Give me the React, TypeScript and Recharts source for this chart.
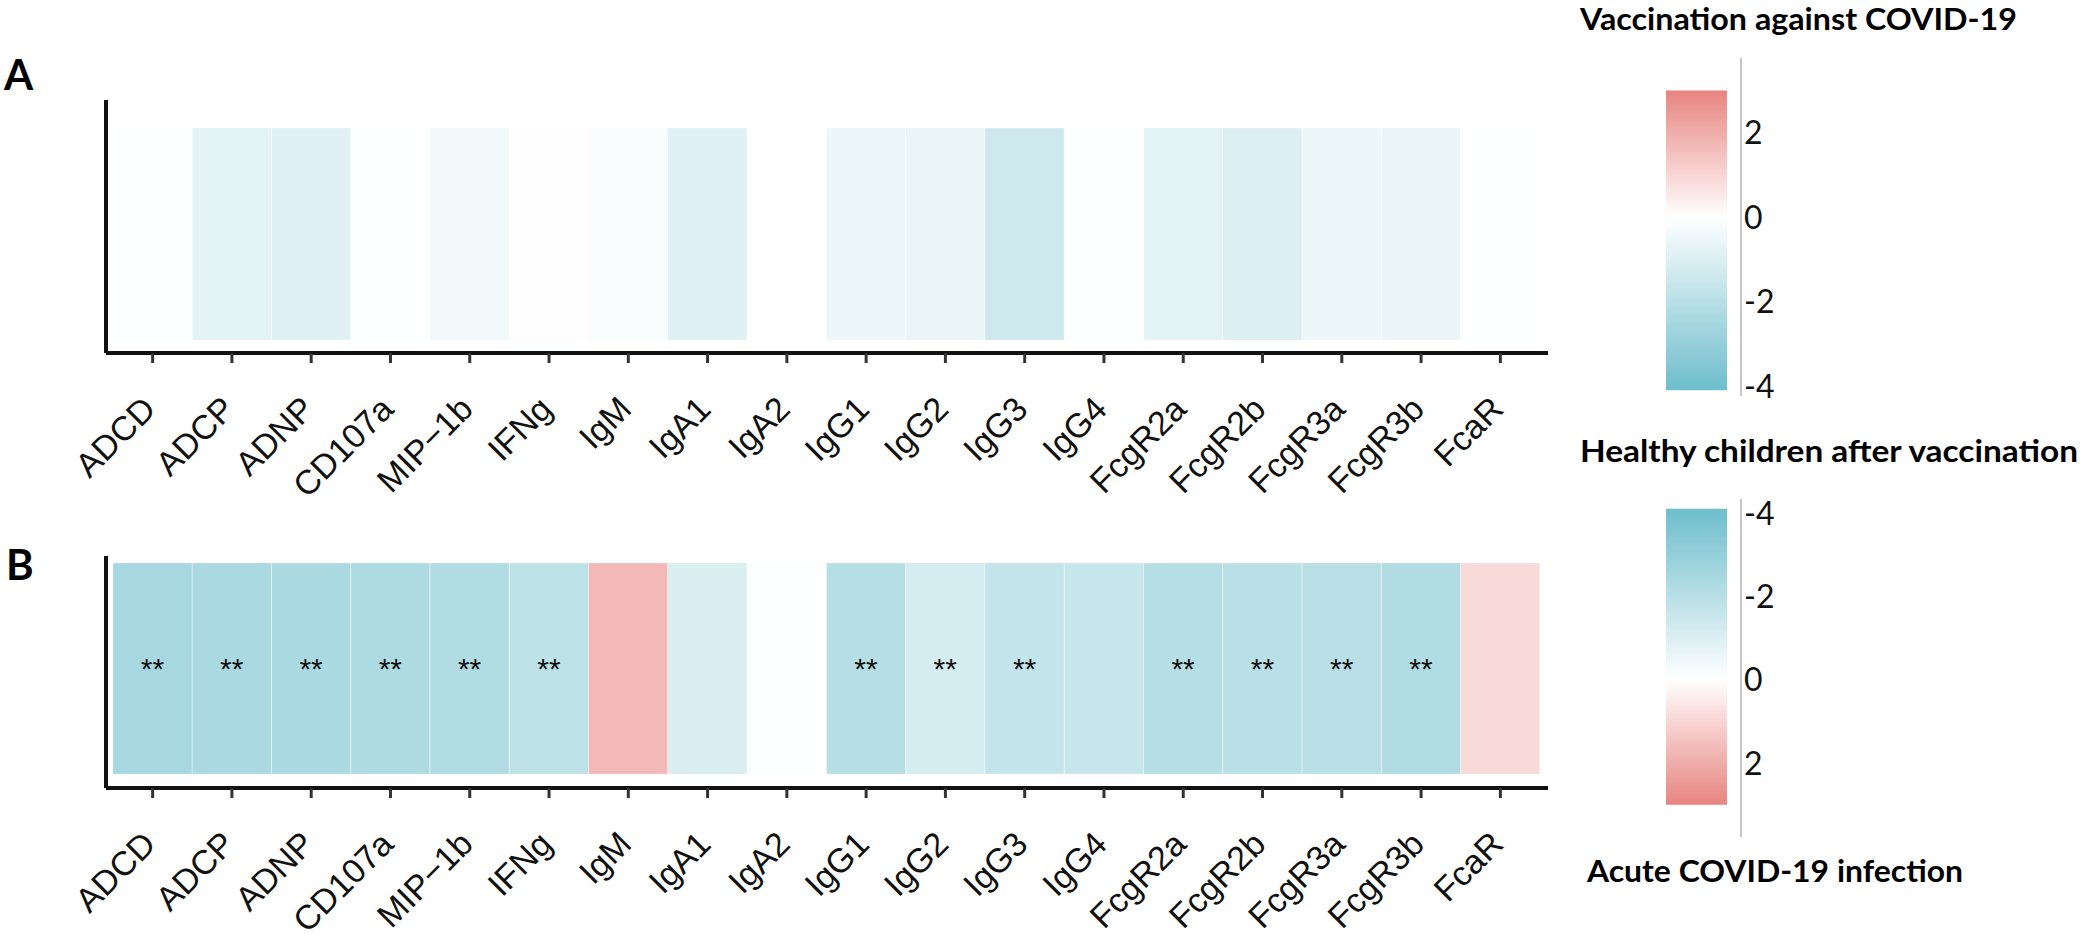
import React from 'react';
import { BarChart, Bar, XAxis, YAxis, Cell, LabelList, ReferenceLine } from 'recharts';

// ---------- data ----------
const features = [
  'ADCD', 'ADCP', 'ADNP', 'CD107a', 'MIP\u22121b', 'IFNg', 'IgM', 'IgA1', 'IgA2',
  'IgG1', 'IgG2', 'IgG3', 'IgG4', 'FcgR2a', 'FcgR2b', 'FcgR3a', 'FcgR3b', 'FcaR',
];

// Panel A: vaccination against COVID-19 (log2 fold change)
const vaccinationValues = [
  -0.05, -0.75, -0.9, -0.05, -0.4, 0.05, -0.2, -0.9, 0.0,
  -0.5, -0.6, -1.4, -0.02, -0.8, -1.0, -0.5, -0.6, -0.02,
];
const vaccinationSignif = ['', '', '', '', '', '', '', '', '', '', '', '', '', '', '', '', '', ''];

// Panel B: healthy children after vaccination vs acute COVID-19 infection
const infectionValues = [
  -2.5, -2.4, -2.35, -2.3, -2.2, -1.9, 1.7, -1.1, -0.05,
  -2.1, -1.2, -1.7, -1.6, -2.1, -1.95, -2.0, -2.2, 0.9,
];
const infectionSignif = [
  '**', '**', '**', '**', '**', '**', '', '', '',
  '**', '**', '**', '', '**', '**', '**', '**', '',
];

const colorLimits = [-4.1, 3.0];
const colorTicks = [-4, -2, 0, 2];
const colorDashTicks = [-2, 2];

// ---------- colours ----------
const LOW = [110, 190, 204];
const HIGH = [232, 132, 127];

function mix(c: number[], t: number) {
  const r = Math.round(255 + (c[0] - 255) * t);
  const g = Math.round(255 + (c[1] - 255) * t);
  const b = Math.round(255 + (c[2] - 255) * t);
  return `rgb(${r},${g},${b})`;
}
function colorFor(v: number) {
  if (v < 0) return mix(LOW, Math.min(1, v / colorLimits[0]));
  return mix(HIGH, Math.min(1, v / colorLimits[1]));
}
const lowCss = mix(LOW, 1);
const highCss = mix(HIGH, 1);

const LABEL_FONT = '"Liberation Sans", Arial, Helvetica, sans-serif';
const TITLE_FONT = 'Lato, "Open Sans", sans-serif';

// ---------- ticks ----------
const AngledTick = (props: any) => {
  const { x, y, payload } = props;
  const ax = x + 5;
  const ay = y + 46;
  return (
    <text
      x={ax}
      y={ay}
      textAnchor="end"
      transform={`rotate(-45, ${ax}, ${ay})`}
      fontSize={34}
      fontFamily={LABEL_FONT}
      fill="#111"
    >
      {payload.value}
    </text>
  );
};

const renderSig = (props: any) => {
  const { x, y, width, height, value } = props;
  if (!value) return null;
  return (
    <text
      x={x + width / 2}
      y={y + height / 2 + 11}
      textAnchor="middle"
      fontSize={30}
      fontFamily={LABEL_FONT}
      fill="#111"
    >
      {value}
    </text>
  );
};

const ScaleTick = (props: any) => {
  const { x, y, payload } = props;
  return (
    <text x={x + 1} y={y} dy="0.36em" textAnchor="start" fontSize={32} fontFamily={TITLE_FONT} fill="#111">
      {String(payload.value)}
    </text>
  );
};

const BarEdgeDashes = (props: any) => {
  const { x1, x2, y1 } = props;
  const left = x1 + 25;
  const right = x2 - 14;
  return (
    <g stroke="#ffffff" strokeOpacity={0.8} strokeWidth={2}>
      <line x1={left} x2={left + 12} y1={y1} y2={y1} />
      <line x1={right - 12} x2={right} y1={y1} y2={y1} />
    </g>
  );
};

// ---------- heatmap ----------
function Heatmap(props: {
  values: number[];
  signif: string[];
  height: number;
  marginTop: number;
  xAxisHeight: number;
  domain: [number, number];
}) {
  const { values, signif, height, marginTop, xAxisHeight, domain } = props;
  const data = features.map((f, i) => ({ feature: f, value: values[i], sig: signif[i] }));
  return (
    <BarChart
      width={1560}
      height={height}
      data={data}
      margin={{ top: marginTop, right: 12, bottom: 0, left: 104 }}
      barCategoryGap={0}
      barGap={0}
    >
      <XAxis
        dataKey="feature"
        type="category"
        interval={0}
        padding={{ left: 7, right: 8 }}
        axisLine={{ stroke: '#111', strokeWidth: 4 }}
        tickLine={{ stroke: '#333', strokeWidth: 3 }}
        tickSize={10}
        tickMargin={2}
        height={xAxisHeight}
        tick={<AngledTick />}
      />
      <YAxis
        type="number"
        domain={domain}
        allowDataOverflow
        width={2}
        tick={false}
        tickLine={false}
        axisLine={{ stroke: '#111', strokeWidth: 4 }}
      />
      <Bar dataKey={() => 1} isAnimationActive={false} stroke="#ffffff" strokeOpacity={0.25} strokeWidth={1}>
        {data.map((d, i) => (
          <Cell key={i} fill={colorFor(d.value)} />
        ))}
        <LabelList dataKey="sig" content={renderSig} />
      </Bar>
    </BarChart>
  );
}

// ---------- colour bar ----------
function ColorBar(props: { id: string; reversed: boolean; marginTop: number; domain: [number, number] }) {
  const { id, reversed, marginTop, domain } = props;
  const zeroOffset = reversed
    ? (0 - colorLimits[0]) / (colorLimits[1] - colorLimits[0])
    : (colorLimits[1] - 0) / (colorLimits[1] - colorLimits[0]);
  const topColor = reversed ? lowCss : highCss;
  const bottomColor = reversed ? highCss : lowCss;
  return (
    <BarChart
      width={260}
      height={420}
      data={[{ k: 'scale' }]}
      margin={{ top: marginTop, right: 19, bottom: 420 - marginTop - 338, left: 41 }}
      barCategoryGap={0}
    >
      <defs>
        <linearGradient id={id} x1="0" y1="0" x2="0" y2="1">
          <stop offset="0" stopColor={topColor} />
          <stop offset={zeroOffset} stopColor="#ffffff" />
          <stop offset="1" stopColor={bottomColor} />
        </linearGradient>
      </defs>
      <XAxis
        dataKey="k"
        type="category"
        orientation={reversed ? 'top' : 'bottom'}
        height={0}
        tick={false}
        tickLine={false}
        axisLine={{ stroke: '#b3b3b3', strokeWidth: 1.5 }}
        padding={{ left: 25, right: 14 }}
      />
      <YAxis
        type="number"
        orientation="right"
        domain={domain}
        allowDataOverflow
        reversed={reversed}
        ticks={colorTicks}
        interval={0}
        width={100}
        tickSize={0}
        tickMargin={2}
        tickLine={false}
        axisLine={{ stroke: '#b3b3b3', strokeWidth: 1.5 }}
        tick={<ScaleTick />}
      />
      <Bar dataKey={() => colorLimits} fill={`url(#${id})`} isAnimationActive={false} />
      {colorDashTicks.map((t) => (
        <ReferenceLine key={t} y={t} stroke="#ffffff" shape={<BarEdgeDashes />} />
      ))}
    </BarChart>
  );
}

export default function App() {
  return (
    <div style={{ position: 'absolute', left: 0, top: 0, width: 2085, height: 940, background: '#fff', overflow: 'hidden' }}>
      <div style={{ position: 'absolute', left: 0, top: 460 }}>
        <Heatmap
          values={infectionValues}
          signif={infectionSignif}
          height={480}
          marginTop={96}
          xAxisHeight={152}
          domain={[-0.0664, 1.033]}
        />
      </div>
      <div style={{ position: 'absolute', left: 0, top: 0 }}>
        <Heatmap
          values={vaccinationValues}
          signif={vaccinationSignif}
          height={545}
          marginTop={100}
          xAxisHeight={192}
          domain={[-0.0613, 1.132]}
        />
      </div>
      <div style={{ position: 'absolute', left: 1600, top: 0 }}>
        <ColorBar id="gradA" reversed={false} marginTop={58} domain={[-4.236, 3.77]} />
      </div>
      <div style={{ position: 'absolute', left: 1600, top: 440 }}>
        <ColorBar id="gradB" reversed={true} marginTop={59} domain={[-4.336, 3.776]} />
      </div>
      <svg
        width={2085}
        height={940}
        style={{ position: 'absolute', left: 0, top: 0, pointerEvents: 'none' }}
      >
        <text x={4} y={90} fontSize={42} fontWeight={700} fontFamily={TITLE_FONT} fill="#000">A</text>
        <text x={6} y={580} fontSize={42} fontWeight={700} fontFamily={TITLE_FONT} fill="#000">B</text>
        <text x={1580} y={30} fontSize={30} fontWeight={700} fontFamily={TITLE_FONT} fill="#000" textLength={437} lengthAdjust="spacingAndGlyphs">
          Vaccination against COVID-19
        </text>
        <text x={1580} y={462} fontSize={30} fontWeight={700} fontFamily={TITLE_FONT} fill="#000" textLength={498} lengthAdjust="spacingAndGlyphs">
          Healthy children after vaccination
        </text>
        <text x={1587} y={882} fontSize={30} fontWeight={700} fontFamily={TITLE_FONT} fill="#000" textLength={376} lengthAdjust="spacingAndGlyphs">
          Acute COVID-19 infection
        </text>
      </svg>
    </div>
  );
}
